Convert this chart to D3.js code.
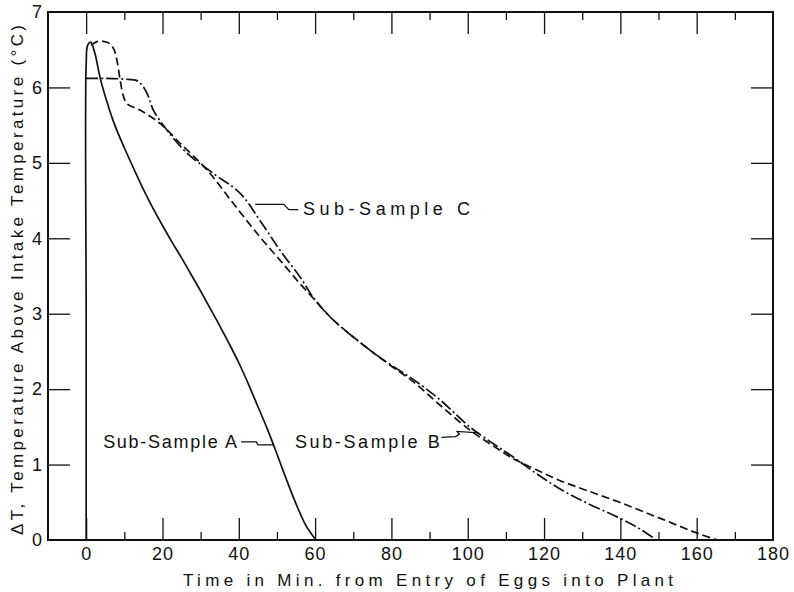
<!DOCTYPE html>
<html><head><meta charset="utf-8">
<script src="https://cdn.jsdelivr.net/npm/d3@7/dist/d3.min.js"></script>
<style>body{margin:0;background:#fff}svg{display:block}text{font-family:"Liberation Sans","DejaVu Sans",sans-serif;fill:#111}</style>
</head><body><div id="chart"></div>
<script>
// ---- data ----
const xTicks = [0, 20, 40, 60, 80, 100, 120, 140, 160, 180];
const xMinorTicks = [10, 30, 50, 70, 90, 110, 130, 150, 170];
const yTicks = [0, 1, 2, 3, 4, 5, 6, 7];
const xTitle = "Time in Min. from Entry of Eggs into Plant";
const yTitle = "\u0394T, Temperature Above Intake Temperature (\u00B0C)";

const sampleA = [[0,0],[0,3],[0,6.3],[0.4,6.56],[1.2,6.6],[2.3,6.45],[3.7,6.12],[5.5,5.8],[7.5,5.5],[10,5.2],[12.5,4.92],[15,4.65],[17.5,4.4],[20,4.17],[22.5,3.95],[25,3.74],[27.5,3.52],[30,3.3],[32.5,3.07],[35,2.84],[37.5,2.6],[40,2.35],[42.5,2.07],[45,1.77],[47.5,1.47],[50,1.14],[52.5,0.8],[55,0.48],[57.5,0.2],[60.2,0]];
const sampleB = [[1.3,6.56],[3,6.61],[4.5,6.61],[6.2,6.58],[7.3,6.5],[8.1,6.35],[8.9,6.1],[9.8,5.88],[10.8,5.78],[14.1,5.7],[19.4,5.52],[24.6,5.26],[31.6,4.91],[38.6,4.46],[45.5,4.02],[50.8,3.71],[56,3.4],[60,3.18],[64.7,2.92],[74.3,2.52],[79.6,2.32],[85.7,2.1],[92.7,1.79],[100.5,1.46],[106.6,1.25],[111.9,1.08],[118,0.93],[124.1,0.79],[131,0.66],[139.8,0.5],[150.3,0.29],[160.7,0.08],[165.5,0]];
const sampleC = [[0,6.12],[5,6.12],[10,6.11],[13.3,6.09],[15.1,6.0],[16.3,5.88],[17.6,5.7],[21.1,5.44],[26.4,5.13],[33.3,4.86],[40.3,4.6],[45.5,4.24],[50.8,3.84],[56,3.49],[60,3.18],[64.7,2.92],[74.3,2.52],[79.6,2.33],[85.7,2.13],[92.7,1.86],[100.5,1.5],[106.6,1.28],[111.9,1.1],[118,0.88],[124.1,0.68],[130,0.52],[139.8,0.29],[145,0.15],[149.4,0]];

const labelNames = ["Sub-Sample A", "Sub-Sample B", "Sub-Sample C"];

// ---- layout ----
const W = 794, H = 592;
const m = {left: 48, right: 21, top: 12, bottom: 52};
const svg = d3.select("#chart").append("svg").attr("width", W).attr("height", H);
const x = d3.scaleLinear().domain([-10, 180]).range([m.left, W - m.right]);
const y = d3.scaleLinear().domain([0, 7]).range([H - m.bottom, m.top]);

const g = svg.append("g");
const major = 22, minor = 8;

const axBottom = g.append("g").attr("transform", `translate(0,${y(0)})`)
  .call(d3.axisBottom(x).tickValues(xTicks).tickSizeInner(-major).tickSizeOuter(0).tickPadding(7).tickFormat(d3.format("d")));
g.append("g").attr("transform", `translate(0,${y(0)})`)
  .call(d3.axisBottom(x).tickValues(xMinorTicks).tickSizeInner(-minor).tickSizeOuter(0).tickFormat(""));
const axTop = g.append("g").attr("transform", `translate(0,${y(7)})`)
  .call(d3.axisTop(x).tickValues(xTicks).tickSizeInner(-major).tickSizeOuter(0).tickFormat(""));
g.append("g").attr("transform", `translate(0,${y(7)})`)
  .call(d3.axisTop(x).tickValues(xMinorTicks).tickSizeInner(-minor).tickSizeOuter(0).tickFormat(""));
const axLeft = g.append("g").attr("transform", `translate(${x(-10)},0)`)
  .call(d3.axisLeft(y).tickValues(yTicks).tickSizeInner(-major).tickSizeOuter(0).tickPadding(6).tickFormat(d3.format("d")));
const axRight = g.append("g").attr("transform", `translate(${x(180)},0)`)
  .call(d3.axisRight(y).tickValues(yTicks).tickSizeInner(-major).tickSizeOuter(0).tickFormat(""));

g.selectAll(".domain").remove();
g.selectAll(".tick line").attr("stroke", "#111").attr("stroke-width", 1.3);
axBottom.selectAll(".tick text").attr("font-size", 18).attr("fill", "#111").attr("letter-spacing", 1);
axLeft.selectAll(".tick text").attr("font-size", 18).attr("fill", "#111");
[axTop, axBottom].forEach(a => a.selectAll(".tick").filter(d => d === 180).select("line").remove());
[axLeft, axRight].forEach(a => a.selectAll(".tick").filter(d => d === 0 || d === 7).select("line").remove());

// frame
g.append("rect").attr("x", x(-10)).attr("y", y(7)).attr("width", x(180) - x(-10)).attr("height", y(0) - y(7))
  .attr("fill", "none").attr("stroke", "#111").attr("stroke-width", 2);

// curves
const line = d3.line().x(d => x(d[0])).y(d => y(d[1])).curve(d3.curveCatmullRom.alpha(0.5));
g.append("path").datum(sampleA).attr("d", line).attr("fill", "none").attr("stroke", "#111").attr("stroke-width", 1.7);
g.append("path").datum(sampleB).attr("d", line).attr("fill", "none").attr("stroke", "#111").attr("stroke-width", 1.7).attr("stroke-dasharray", "8,4");
g.append("path").datum(sampleC).attr("d", line).attr("fill", "none").attr("stroke", "#111").attr("stroke-width", 1.7).attr("stroke-dasharray", "12,3,2,3");

// annotations (positions in data units)
const ann = [
  {t: labelNames[0], tx: 4.45, ty: 1.30, len: 134, lead: [[40.6,1.30],[44.6,1.30],[45.0,1.26],[48.9,1.26],[49.0,1.29]]},
  {t: labelNames[1], tx: 54.7, ty: 1.30, len: 145, lead: [[93.1,1.36],[96.8,1.37],[97.8,1.40],[97.2,1.44],[103.0,1.42]]},
  {t: labelNames[2], tx: 56.8, ty: 4.39, len: 167, lead: [[44.3,4.45],[51.8,4.45],[53.1,4.38],[55.6,4.38]]}
];
const lead = d3.line().x(d => x(d[0])).y(d => y(d[1]));
ann.forEach(a => {
  g.append("path").attr("d", lead(a.lead)).attr("fill", "none").attr("stroke", "#111").attr("stroke-width", 1.3);
  g.append("text").attr("x", x(a.tx)).attr("y", y(a.ty)).attr("dy", "0.35em").attr("font-size", 18)
    .attr("textLength", a.len).attr("lengthAdjust", "spacing").text(a.t);
});

// titles
svg.append("text").attr("x", 183).attr("y", 580).attr("dy", "0.35em").attr("font-size", 17)
  .attr("textLength", 490).attr("lengthAdjust", "spacing").text(xTitle);
svg.append("text").attr("transform", `translate(17,${535}) rotate(-90)`).attr("dy", "0.35em").attr("font-size", 17)
  .attr("textLength", 510).attr("lengthAdjust", "spacing").text(yTitle);
</script></body></html>
